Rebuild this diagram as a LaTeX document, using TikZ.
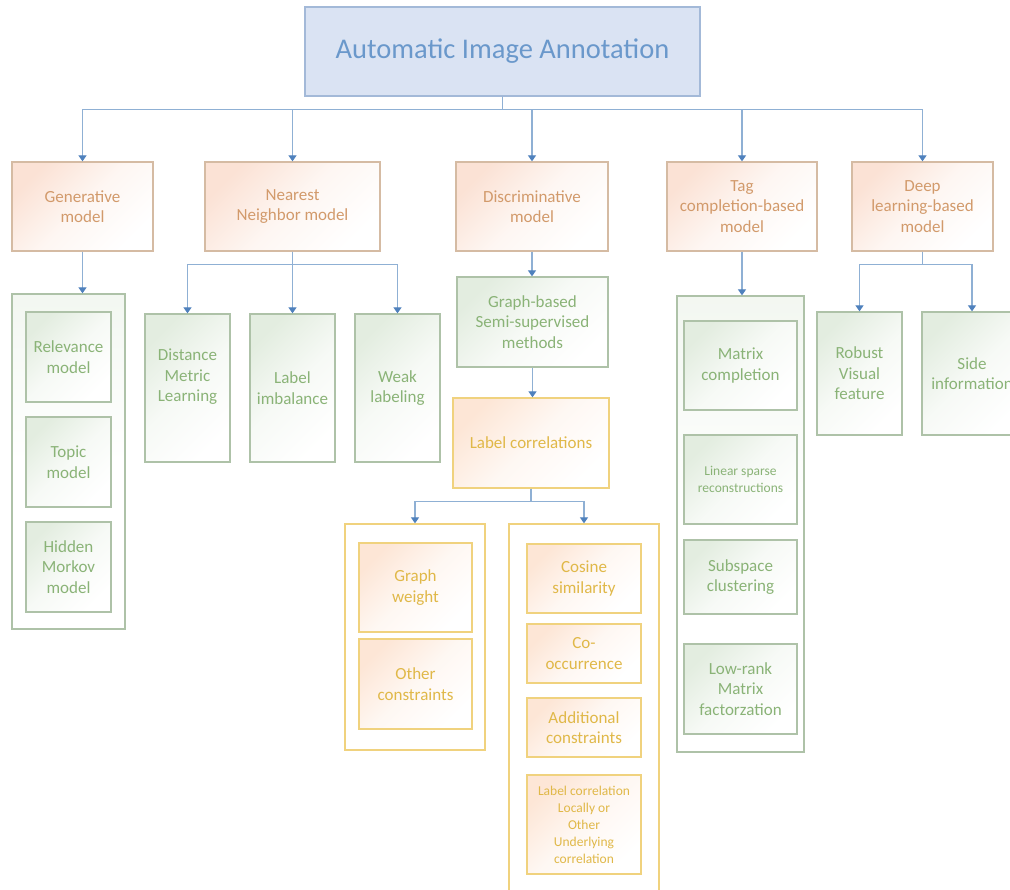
\documentclass[tikz,border=0pt]{standalone}
\usepackage{fontspec}
\setmainfont{Carlito}
\usetikzlibrary{arrows.meta}

\definecolor{linkblue}{HTML}{8FB0D4}
\definecolor{tipblue}{HTML}{4F81BD}
\definecolor{rootfill}{HTML}{DAE3F3}
\definecolor{rootdraw}{HTML}{A3B9D8}
\definecolor{roottext}{HTML}{6A98CB}
\definecolor{tandraw}{HTML}{D5BBA3}
\definecolor{tanfill}{HTML}{FBE2D5}
\definecolor{tantext}{HTML}{D29A6B}
\definecolor{grndraw}{HTML}{AEC2A8}
\definecolor{grnfill}{HTML}{E3EDE0}
\definecolor{grntext}{HTML}{8AB377}
\definecolor{yeldraw}{HTML}{F0D27E}
\definecolor{yelfill}{HTML}{FDE6D6}
\definecolor{yeltext}{HTML}{E0B848}

\tikzset{
  box/.style={draw, line width=1.3pt, align=center, inner sep=0pt,
    font=\fontsize{17}{20.5}\selectfont},
  rootbox/.style={box, draw=rootdraw, fill=rootfill, text=roottext,
    font=\fontsize{28.5}{34}\selectfont},
  modelbox/.style={box, draw=tandraw, top color=tanfill, bottom color=white,
    middle color=white!70!tanfill, shading angle=45, text=tantext},
  grnbox/.style={box, draw=grndraw, top color=grnfill, bottom color=white,
    middle color=white!70!grnfill, shading angle=45, text=grntext},
  grngroup/.style={grnbox, top color=grnfill!45, bottom color=white, middle color=white},
  yelbox/.style={box, draw=yeldraw, top color=yelfill, bottom color=white,
    middle color=white!70!yelfill, shading angle=45, text=yeltext},
  yelgroup/.style={yelbox, top color=white, bottom color=white, middle color=white},
  smalltext/.style={font=\fontsize{13.5}{17}\selectfont},
  arr/.style={draw=linkblue, line width=1.3pt,
    -{Triangle[width=8pt,length=6pt,color=tipblue]}},
}

\begin{document}
\begin{tikzpicture}[x=1pt,y=-1pt]
\path[use as bounding box, fill=white] (0,0) rectangle (1010,890);

% root
\node[rootbox, minimum width=395, minimum height=89] (aia) at (502.5,51.5) {Automatic Image Annotation};

% model families
\node[modelbox, minimum width=141, minimum height=89] (gen) at (82.5,206.5) {Generative\\model};
\node[modelbox, minimum width=175, minimum height=89] (near) at (292.5,206.5) {Nearest\\Neighbor model};
\node[modelbox, minimum width=152, minimum height=89] (disc) at (532,206.5) {Discriminative\\model};
\node[modelbox, minimum width=150, minimum height=89] (tag) at (742,206.5) {Tag\\completion-based\\model};
\node[modelbox, minimum width=141, minimum height=89] (deep) at (922.5,206.5) {Deep\\learning-based\\model};

\draw[arr] (aia.south) -- ++(0,13) -| (gen.north);
\draw[arr] (aia.south) -- ++(0,13) -| (near.north);
\draw[arr] (aia.south) -- ++(0,13) -| (disc.north);
\draw[arr] (aia.south) -- ++(0,13) -| (tag.north);
\draw[arr] (aia.south) -- ++(0,13) -| (deep.north);

% generative
\node[grngroup, minimum width=113, minimum height=335] (gencont) at (68.5,461.5) {};
\node[grnbox, minimum width=85, minimum height=90] (rel) at (68.5,357) {Relevance\\model};
\node[grnbox, minimum width=85, minimum height=90] (topic) at (68.5,462) {Topic\\model};
\node[grnbox, minimum width=85, minimum height=90] (hmm) at (68.5,567) {Hidden\\Morkov\\model};
\draw[arr] (gen.south) -- (gen.south |- gencont.north);

% nearest neighbor
\node[grnbox, minimum width=85, minimum height=148] (dml) at (187.5,388) {};
\node[text=grntext, align=center, inner sep=0pt, font=\fontsize{17}{20.5}\selectfont] (dmltext) at ([yshift=11pt]dml.center) {Distance\\Metric\\Learning};
\node[grnbox, minimum width=85, minimum height=148] (limb) at (292.5,388) {Label\\imbalance};
\node[grnbox, minimum width=85, minimum height=148] (weak) at (397.5,388) {Weak\\labeling};
\draw[arr] (near.south) -- ++(0,13) -| (dml.north);
\draw[arr] (near.south) -- ++(0,13) -| (limb.north);
\draw[arr] (near.south) -- ++(0,13) -| (weak.north);

% discriminative
\node[grnbox, minimum width=151, minimum height=90] (gbs) at (532.5,322) {Graph-based\\Semi-supervised\\methods};
\node[yelbox, minimum width=156, minimum height=90] (lc) at (531,443) {Label correlations};
\draw[arr] (disc.south) -- (disc.south |- gbs.north);
\draw[arr] (gbs.south) -- (gbs.south |- lc.north);

\node[yelgroup, minimum width=140, minimum height=226] (lcw) at (415,637) {};
\node[yelbox, minimum width=113, minimum height=89] (gw) at (415.5,587.5) {Graph\\weight};
\node[yelbox, minimum width=113, minimum height=90] (oc) at (415.5,684) {Other\\constraints};

\node[yelgroup, minimum width=150, minimum height=381] (lcc) at (584,714.5) {};
\node[yelbox, minimum width=114, minimum height=69] (cos) at (584,578.5) {Cosine\\similarity};
\node[yelbox, minimum width=114, minimum height=59] (cooc) at (584,653.5) {Co-\\occurrence};
\node[yelbox, minimum width=114, minimum height=59] (addc) at (584,727.5) {Additional\\constraints};
\node[yelbox, smalltext, minimum width=114, minimum height=99] (lcl) at (584,824.5) {Label correlation\\Locally or\\Other\\Underlying\\correlation};
\draw[arr] (lc.south) -- ++(0,13) -| (lcw.north);
\draw[arr] (lc.south) -- ++(0,13) -| (lcc.north);

% tag completion
\node[grngroup, minimum width=127, minimum height=456] (tagcont) at (740.5,524) {};
\node[grnbox, minimum width=113, minimum height=89] (mc) at (740.5,365.5) {Matrix\\completion};
\node[grnbox, smalltext, minimum width=113, minimum height=89] (lsr) at (740.5,479.5) {Linear sparse\\reconstructions};
\node[grnbox, minimum width=113, minimum height=74] (sc) at (740.5,577) {Subspace\\clustering};
\node[grnbox, minimum width=113, minimum height=90] (lrm) at (740.5,689) {Low-rank\\Matrix\\factorzation};
\draw[arr] (tag.south) -- (tag.south |- tagcont.north);

% deep learning
\node[grnbox, minimum width=85, minimum height=123] (rvf) at (859.5,373.5) {Robust\\Visual\\feature};
\node[grnbox, minimum width=100, minimum height=123] (side) at (972,373.5) {Side\\information};
\draw[arr] (deep.south) -- ++(0,13) -| (rvf.north);
\draw[arr] (deep.south) -- ++(0,13) -| (side.north);
\end{tikzpicture}
\end{document}
